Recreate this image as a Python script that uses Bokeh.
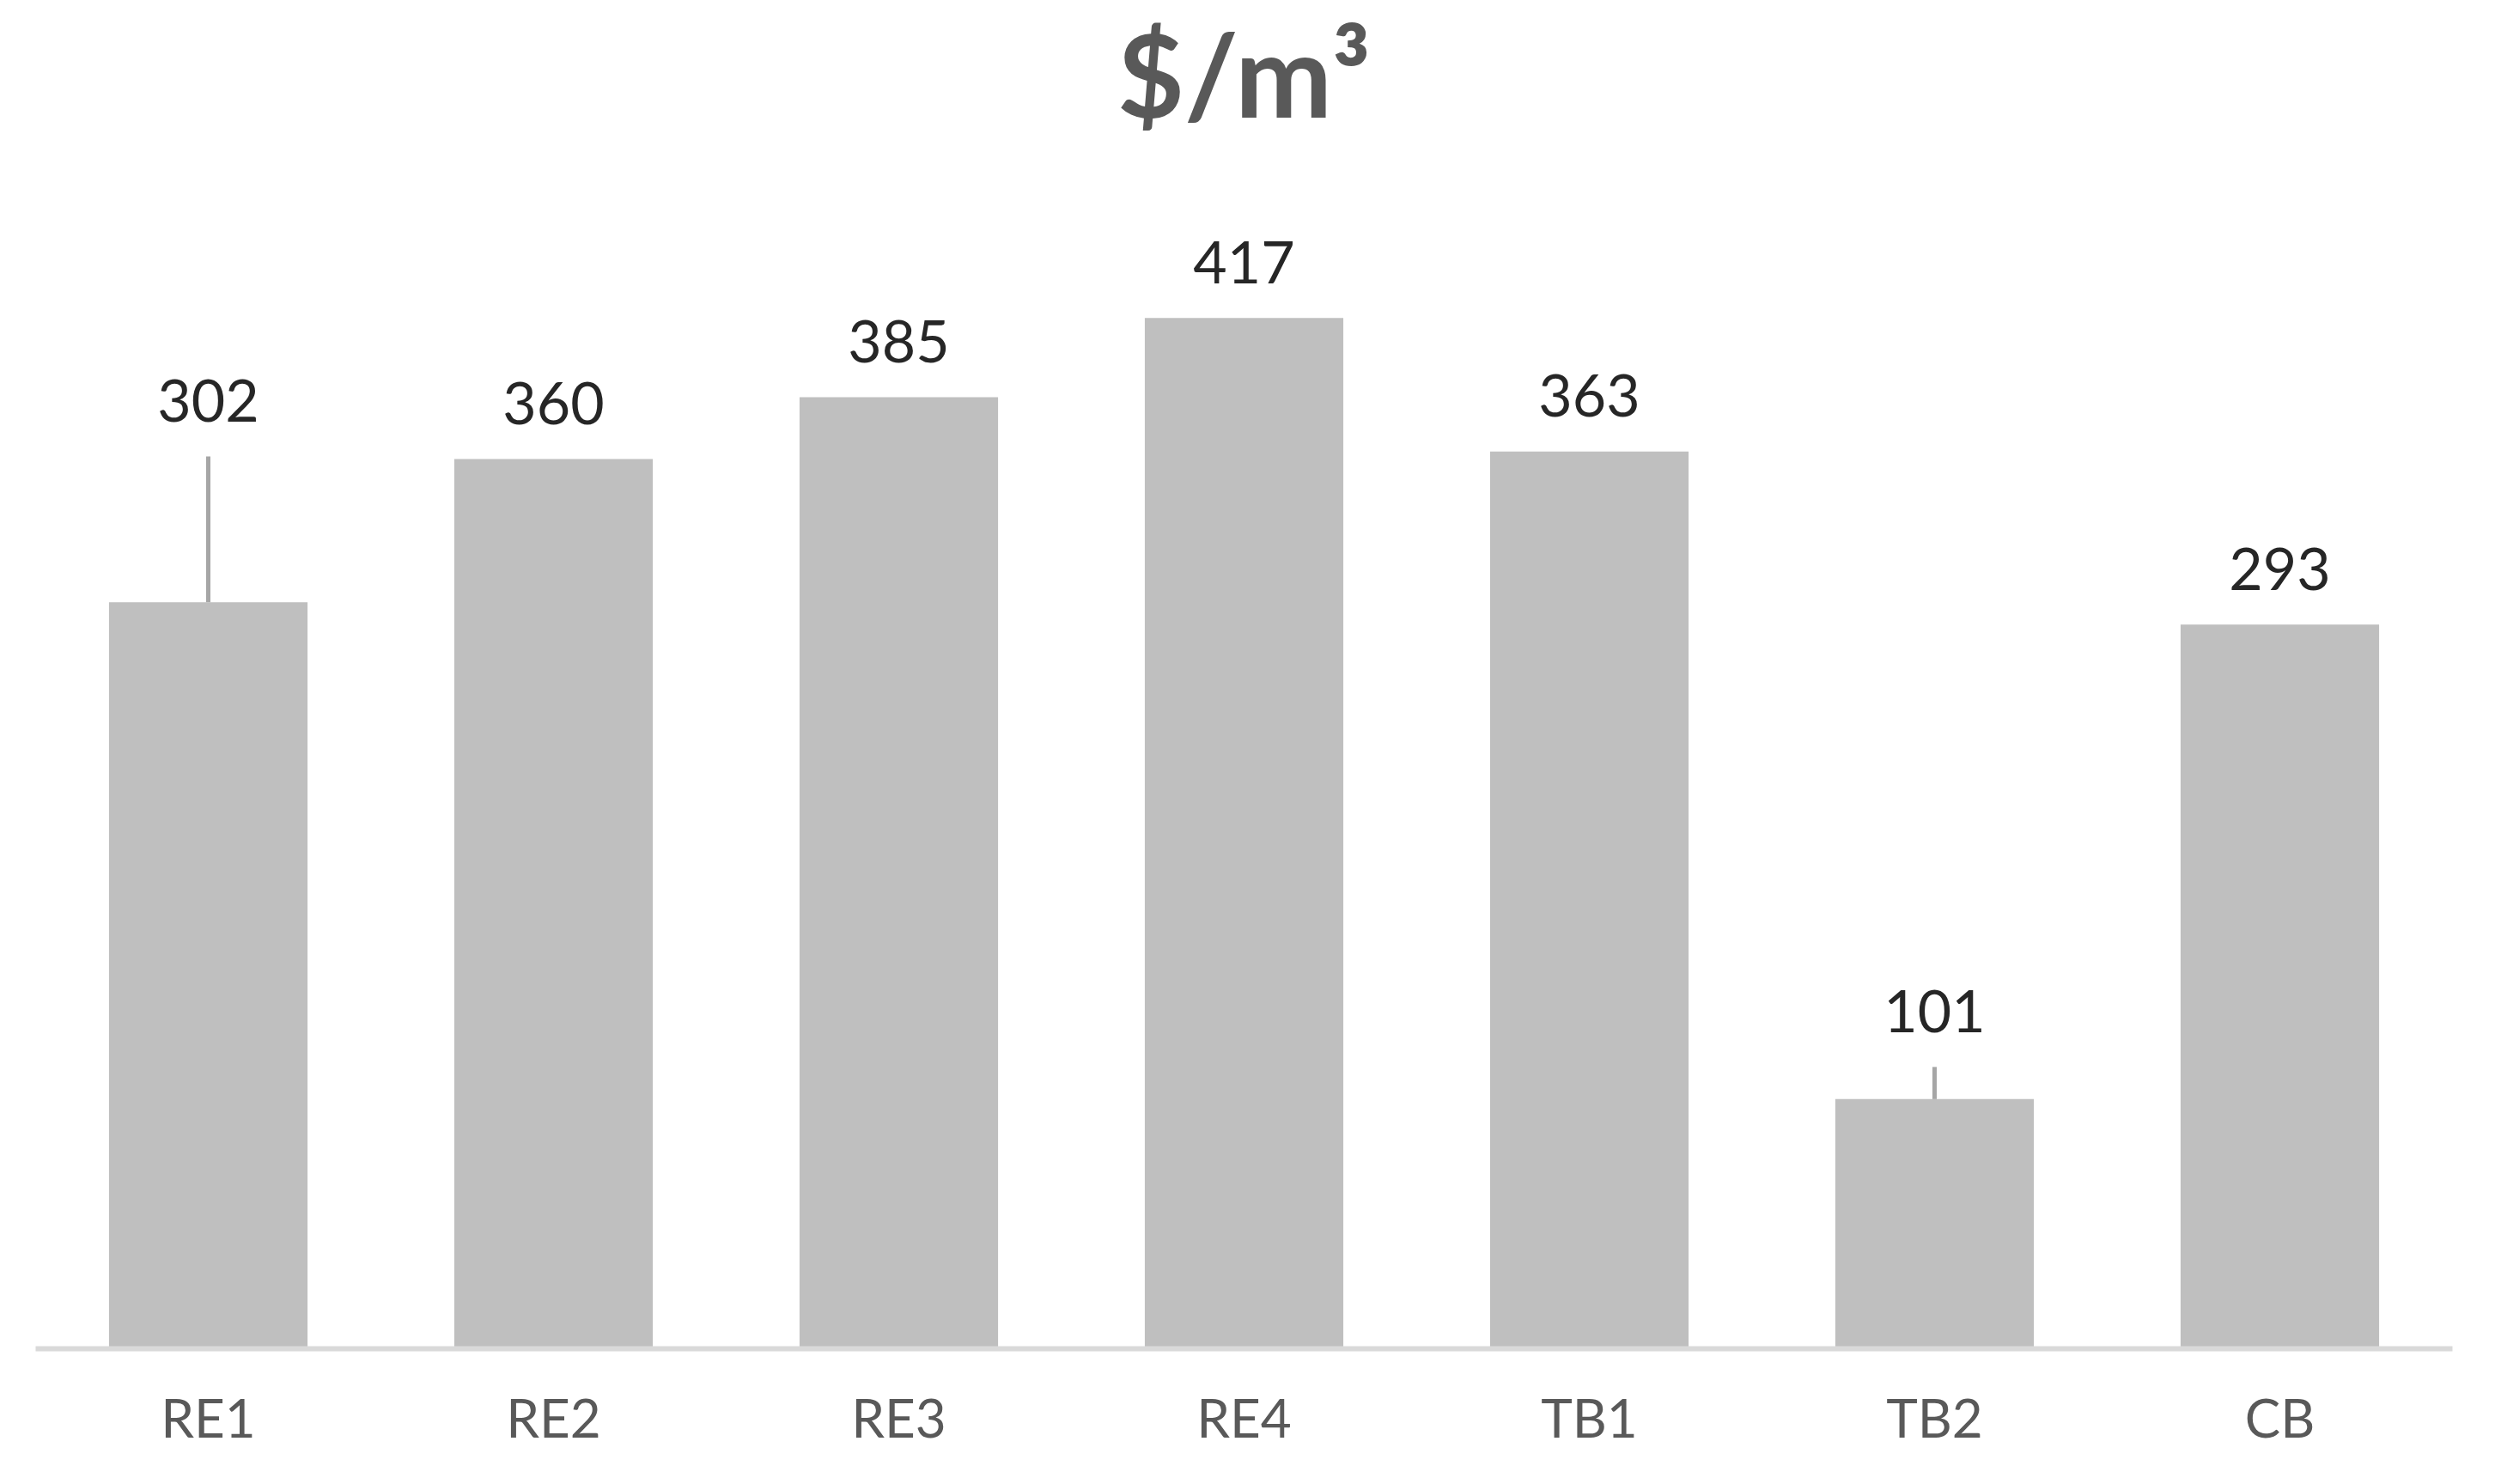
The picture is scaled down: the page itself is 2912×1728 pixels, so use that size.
from bokeh.plotting import figure
from bokeh.models import FactorRange, Range1d, ColumnDataSource, Label
from bokeh.core.properties import value
from bokeh.embed import file_html
from bokeh.resources import INLINE

categories = ["RE1", "RE2", "RE3", "RE4", "TB1", "TB2", "CB"]
costs = [302, 360, 385, 417, 363, 101, 293]
errors = [59, 0, 0, 0, 0, 13, 0]
title_text = "$/m³"

tops = [c + e for c, e in zip(costs, errors)]
src = ColumnDataSource(dict(
    cat=categories, cost=costs, top=tops,
    label=[str(c) for c in costs],
))

FONT = "Lato"

p = figure(
    width=2896, height=1712, title=None,
    x_range=FactorRange(*categories, range_padding=0),
    y_range=Range1d(0, 545.5),
    output_backend="svg", toolbar_location=None,
    min_border_left=41, min_border_right=41,
    min_border_top=0, min_border_bottom=142,
)

p.vbar(x="cat", top="cost", bottom=0, width=0.575, source=src,
       fill_color="#bfbfbf", line_color=None)

err_src = ColumnDataSource(dict(
    cat=[c for c, e in zip(categories, errors) if e > 0],
    y0=[v for v, e in zip(costs, errors) if e > 0],
    y1=[v + e for v, e in zip(costs, errors) if e > 0],
))
p.segment(x0="cat", y0="y0", x1="cat", y1="y1", source=err_src,
          line_color="#a6a6a6", line_width=5)

p.text(x="cat", y="top", text="label", source=src,
       text_font=value(FONT), text_font_size="68px", text_color="#262626",
       text_align="center", text_baseline="alphabetic", y_offset=-65)

# chart title, centred over the category axis
p.add_layout(Label(x=len(categories) / 2, y=516, text=title_text,
                   text_font=FONT, text_font_size="135px",
                   text_font_style="bold", text_color="#595959",
                   text_align="center", text_baseline="alphabetic"))

p.xgrid.visible = False
p.ygrid.visible = False
p.yaxis.visible = False
p.outline_line_color = None
p.background_fill_color = "white"
p.border_fill_color = "white"

ax = p.xaxis[0]
ax.axis_line_color = "#d9d9d9"
ax.axis_line_width = 6
ax.major_tick_line_color = None
ax.minor_tick_line_color = None
ax.major_tick_out = 0
ax.major_tick_in = 0
ax.major_label_text_font = FONT
ax.major_label_text_font_size = "62px"
ax.major_label_text_color = "#595959"
ax.major_label_standoff = 42

open("out.html", "w").write(file_html(p, INLINE))
